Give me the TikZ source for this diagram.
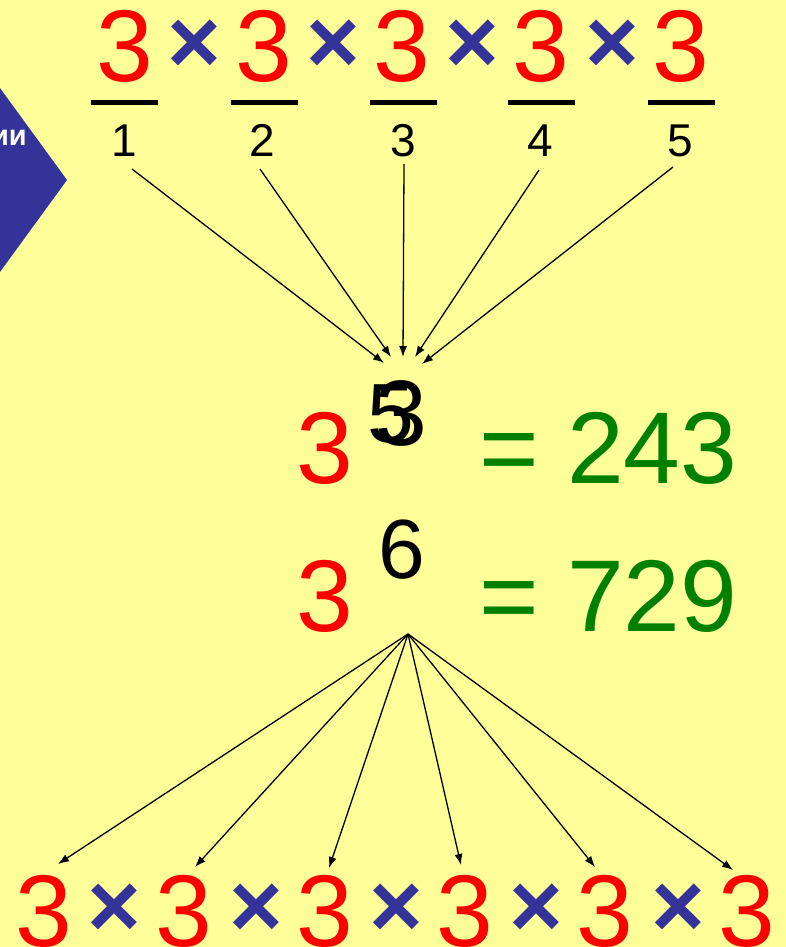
\documentclass[tikz,border=0pt]{standalone}
\usepackage{fontspec}
\setmainfont{Liberation Sans}
\usetikzlibrary{arrows.meta,positioning}
\definecolor{slideyellow}{RGB}{255,255,153}
\definecolor{factorred}{RGB}{255,0,0}
\definecolor{signblue}{RGB}{51,51,153}
\definecolor{resultgreen}{RGB}{0,128,0}
\newcommand{\bignum}{\fontsize{102}{110}\selectfont}

\begin{document}
\begin{tikzpicture}[
    x=1pt,y=-1pt,
    three/.style={text=factorred,inner sep=0pt,anchor=base,font=\bignum},
    mult/.style={text=signblue,inner sep=0pt,font=\fontsize{92}{98}\selectfont\bfseries},
    bar/.style={fill=black,inner sep=0pt,minimum width=67pt,minimum height=5pt},
    idx/.style={inner sep=0pt,anchor=base,font=\fontsize{46}{50}\selectfont},
    power/.style={inner sep=0pt,anchor=base,font=\fontsize{84}{90}\selectfont},
    result/.style={text=resultgreen,inner sep=0pt,anchor=base west,font=\bignum},
    arrow/.style={-{Latex[length=11pt,width=8pt]},line width=1.3pt}
  ]
    \useasboundingbox (0,0) rectangle (786,947);
    \fill[slideyellow] (0,0) rectangle (786,947);

    % side tab of the slide
    \fill[signblue] (0,88) -- (67,180) -- (0,272) -- cycle;
    \node[text=white,inner sep=0pt,anchor=base east,font=\fontsize{29}{32}\selectfont\bfseries] (tab) at (27,145) {ии};

    % top product with numbered factors
    \node[three] (t1) at (125,82) {3};
    \node[mult] (x1) at (194,47) {×};
    \node[three] (t2) at (264,82) {3};
    \node[mult] (x2) at (333,47) {×};
    \node[three] (t3) at (402,82) {3};
    \node[mult] (x3) at (472,47) {×};
    \node[three] (t4) at (541,82) {3};
    \node[mult] (x4) at (612,47) {×};
    \node[three] (t5) at (681,82) {3};

    \node[bar] (b1) at (124,103) {};
    \node[bar] (b2) at (264,103) {};
    \node[bar] (b3) at (403,103) {};
    \node[bar] (b4) at (541,103) {};
    \node[bar] (b5) at (681,103) {};

    \node[idx] (n1) at (124,157) {1};
    \node[idx] (n2) at (262,157) {2};
    \node[idx] (n3) at (403,157) {3};
    \node[idx] (n4) at (540,157) {4};
    \node[idx] (n5) at (680,157) {5};

    \coordinate (s1) at (132,169);
    \coordinate (s2) at (260,169);
    \coordinate (s3) at (404,164);
    \coordinate (s4) at (539,170);
    \coordinate (s5) at (673,167);
    \coordinate (e1) at (384,363);
    \coordinate (e2) at (391,357);
    \coordinate (e3) at (403,357);
    \coordinate (e4) at (415,357);
    \coordinate (e5) at (422,364);

    \draw[arrow] (s1) -- (e1);
    \draw[arrow] (s2) -- (e2);
    \draw[arrow] (s3) -- (e3);
    \draw[arrow] (s4) -- (e4);
    \draw[arrow] (s5) -- (e5);

    % the two powers
    \node[three] (p1) at (325,483) {3};
    \node[power] (k5) at (391,442) {5};
    \node[power,font=\fontsize{93}{100}\selectfont] (k3) at (401,445) {3};
    \node[result] (r1) at (479,483) {= 243};

    \node[three] (p2) at (325,631) {3};
    \node[power] (k6) at (402,578) {6};
    \node[result] (r2) at (479,631) {= 729};

    % bottom product
    \node[three] (u1) at (44,946) {3};
    \node[mult] (y1) at (114,911) {×};
    \node[three] (u2) at (184,946) {3};
    \node[mult] (y2) at (256,911) {×};
    \node[three] (u3) at (325,946) {3};
    \node[mult] (y3) at (396,911) {×};
    \node[three] (u4) at (465,946) {3};
    \node[mult] (y4) at (536,911) {×};
    \node[three] (u5) at (605,946) {3};
    \node[mult] (y5) at (678,911) {×};
    \node[three] (u6) at (747,946) {3};

    \coordinate (apex) at (408,634);
    \coordinate (f1) at (58,864);
    \coordinate (f2) at (195,867);
    \coordinate (f3) at (329,868);
    \coordinate (f4) at (461,865);
    \coordinate (f5) at (595,867);
    \coordinate (f6) at (733,870);

    \draw[arrow] (apex) -- (f1);
    \draw[arrow] (apex) -- (f2);
    \draw[arrow] (apex) -- (f3);
    \draw[arrow] (apex) -- (f4);
    \draw[arrow] (apex) -- (f5);
    \draw[arrow] (apex) -- (f6);
  \end{tikzpicture}
\end{document}
